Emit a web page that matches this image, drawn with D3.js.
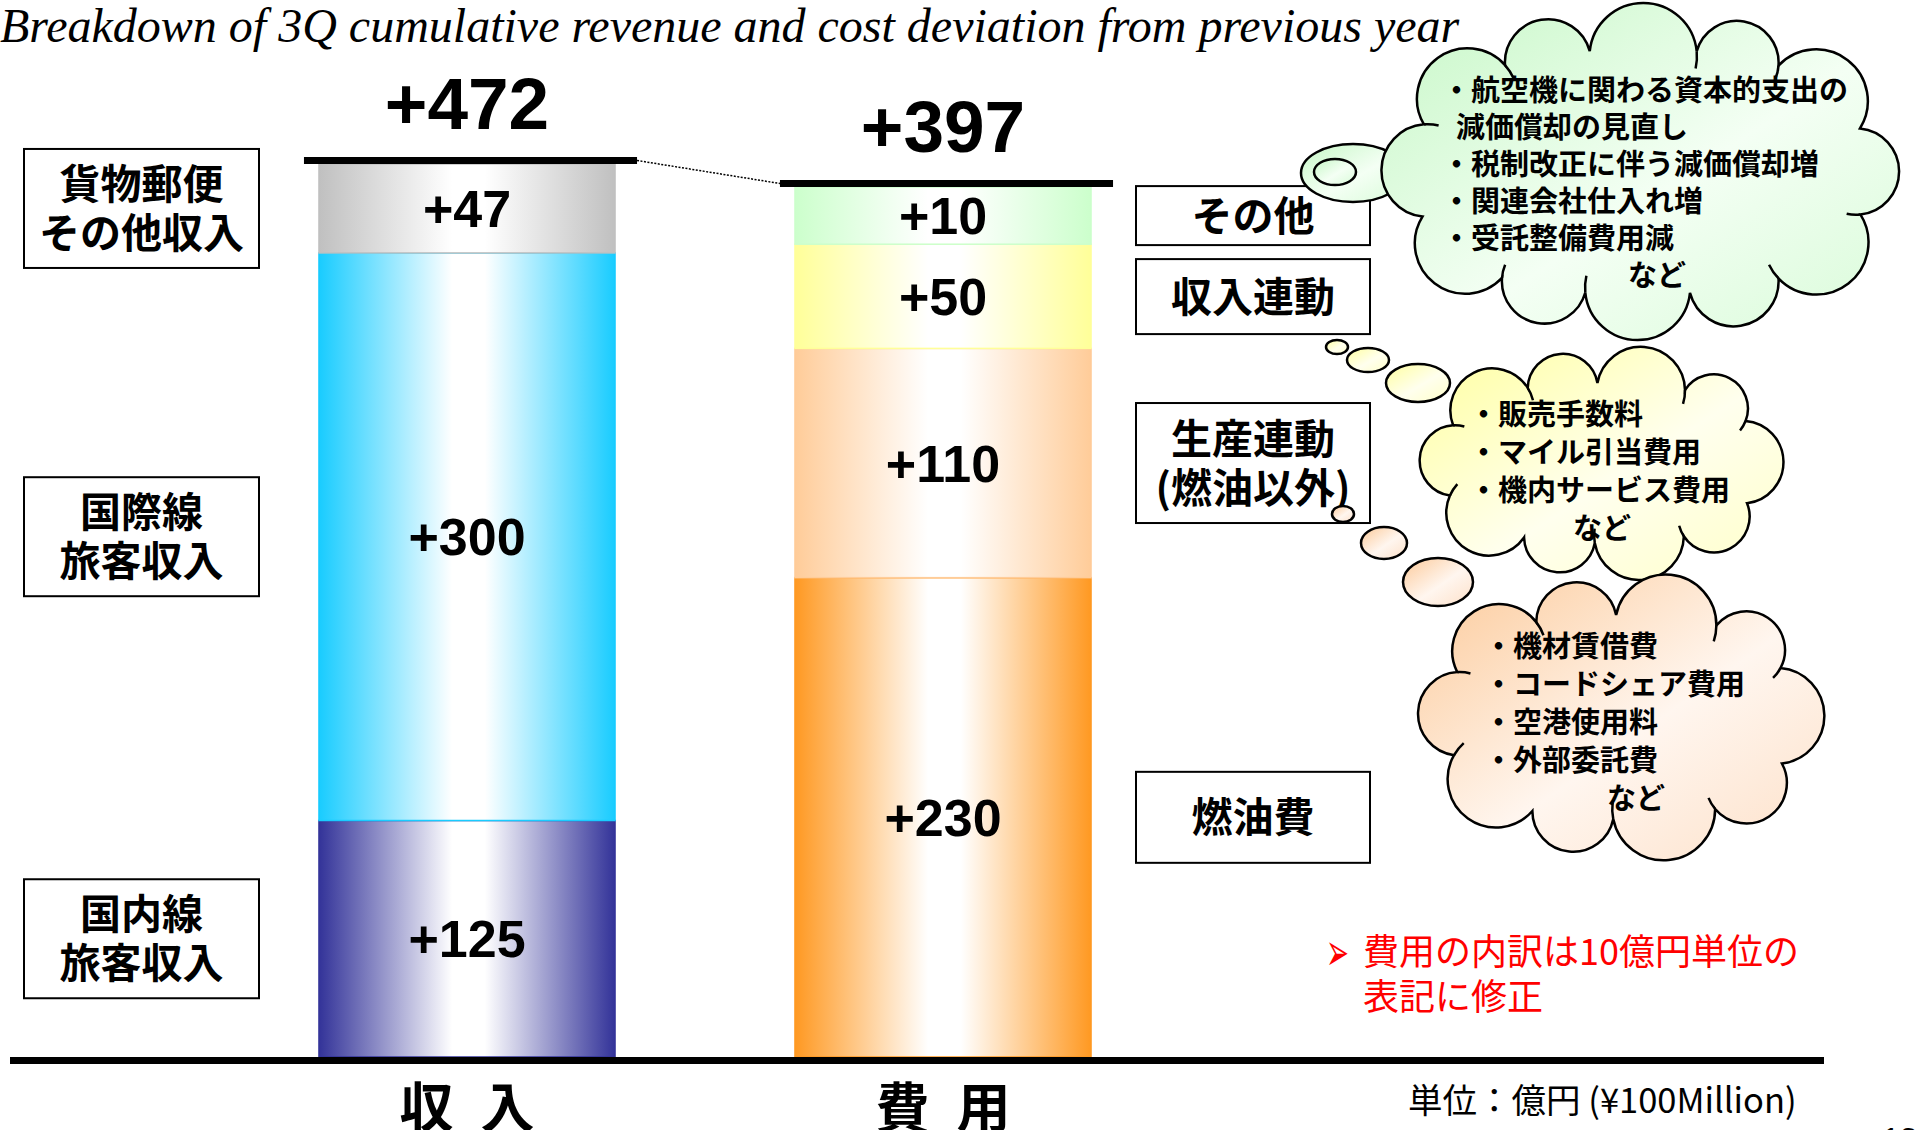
<!DOCTYPE html>
<html>
<head>
<meta charset="utf-8">
<script src="https://cdn.jsdelivr.net/npm/d3@7"></script>
<style>
  body { margin: 0; background: #fff; }
  svg { display: block; }
</style>
</head>
<body>
<svg id="chart" width="1916" height="1130"></svg>
<script>
// ---- data ----
var title = "Breakdown of 3Q cumulative revenue and cost deviation from previous year";
var categories = ["収入", "費用"];
var totals = [472, 397];

// stacked from the bottom up
var revenueLabels = [["国内線", "旅客収入"], ["国際線", "旅客収入"], ["貨物郵便", "その他収入"]];
var revenueValues = [125, 300, 47];
var costLabels = [["燃油費"], ["生産連動", "(燃油以外)"], ["収入連動"], ["その他"]];
var costValues = [230, 110, 50, 10];

var otherCostNotes = ["・航空機に関わる資本的支出の", "減価償却の見直し", "・税制改正に伴う減価償却増", "・関連会社仕入れ増", "・受託整備費用減", "など"];
var revenueLinkedNotes = ["・販売手数料", "・マイル引当費用", "・機内サービス費用", "など"];
var productionLinkedNotes = ["・機材賃借費", "・コードシェア費用", "・空港使用料", "・外部委託費", "など"];

var noteLines = ["費用の内訳は10億円単位の", "表記に修正"];
var unitLabel = "単位：億円 (¥100Million)";
var pageNumber = "13";

// ---- styles / layout ----
var revenueColors = ["#333399", "#19ccff", "#c0c0c0"];
var costColors = ["#ff9922", "#ffcc99", "#ffff99", "#ccffcc"];
var jpFont = "'Noto Sans CJK JP', sans-serif";
var numFont = "'Liberation Sans', Arial, sans-serif";
var baseY = 1057;
var segFs = 52;
var minSegH = segFs * 1.1;   // a segment never gets thinner than its label

var svg = d3.select("#chart");
var defs = svg.append("defs");

// horizontal "cylinder" gradients for the bars
function barGradient(id, c) {
  var g = defs.append("linearGradient").attr("id", id)
      .attr("x1", 0).attr("x2", 1).attr("y1", 0).attr("y2", 0);
  [[0, c], [0.45, "#ffffff"], [0.56, "#ffffff"], [1, c]].forEach(function(s) {
    g.append("stop").attr("offset", s[0]).attr("stop-color", s[1]);
  });
}
function diagGradient(id, c1, c2, c3) {
  var g = defs.append("linearGradient").attr("id", id)
      .attr("x1", 0).attr("y1", 0).attr("x2", 1).attr("y2", 1);
  [[0, c1], [0.55, c2], [1, c3]].forEach(function(s) {
    g.append("stop").attr("offset", s[0]).attr("stop-color", s[1]);
  });
}
revenueColors.forEach(function(c, i) { barGradient("rev" + i, c); });
costColors.forEach(function(c, i) { barGradient("cost" + i, c); });
diagGradient("cloudGreen", "#c6f7c6", "#f4fff4", "#d8fbd8");
diagGradient("cloudYellow", "#ffff9e", "#ffffee", "#ffffc8");
diagGradient("cloudPeach", "#fcc998", "#fff6ef", "#fde0c8");

// title
svg.append("text")
    .attr("x", 0).attr("y", 42)
    .style("font-family", "'Liberation Serif', 'Times New Roman', serif")
    .style("font-style", "italic")
    .style("font-size", "48px")
    .text(title);

// ---- scales ----
var x = d3.scaleBand().domain(categories)
    .range([229, 1181]).paddingInner(0.378).paddingOuter(0.189);
var yRev = d3.scaleLinear().domain([0, d3.sum(revenueValues)]).range([baseY, 164]);
var yCost = d3.scaleLinear().domain([0, d3.sum(costValues)]).range([baseY, 187]);

function segments(values, labels, cat, y, prefix, colors) {
  // heights from the scale, small ones widened to minSegH, the rest shrunk to keep the total
  var full = y(0) - y(d3.sum(values));
  var raw = values.map(function(v) { return y(0) - y(v); });
  var fixed = d3.sum(raw, function(h) { return h < minSegH ? minSegH : 0; });
  var rest = d3.sum(raw, function(h) { return h < minSegH ? 0 : h; });
  var k = (full - fixed) / rest;
  var bottom = y(0);
  return values.map(function(v, i) {
    var h = raw[i] < minSegH ? minSegH : raw[i] * k;
    var s = { cat: cat, v: v, py0: bottom, py1: bottom - h, fill: "url(#" + prefix + i + ")",
              edge: colors[i], label: labels[i] };
    bottom -= h;
    return s;
  });
}
var revSegs = segments(revenueValues, revenueLabels, categories[0], yRev, "rev", revenueColors);
var costSegs = segments(costValues, costLabels, categories[1], yCost, "cost", costColors);
var allSegs = revSegs.concat(costSegs);

// bars
svg.append("g").selectAll("rect")
  .data(allSegs)
  .enter().append("rect")
    .attr("x", function(d) { return x(d.cat); })
    .attr("y", function(d) { return d.py1; })
    .attr("width", x.bandwidth())
    .attr("height", function(d) { return d.py0 - d.py1; })
    .style("fill", function(d) { return d.fill; })
    .style("stroke", function(d) { return d.edge; })
    .style("stroke-width", 1.5);

// segment values
svg.append("g").selectAll("text")
  .data(allSegs)
  .enter().append("text")
    .attr("x", function(d) { return x(d.cat) + x.bandwidth() / 2; })
    .attr("y", function(d) { return (d.py0 + d.py1) / 2 + segFs * 0.36; })
    .attr("text-anchor", "middle")
    .style("font-family", numFont).style("font-weight", "bold").style("font-size", segFs + "px")
    .text(function(d) { return "+" + d.v; });

// top lines and totals
var tops = [
  { cat: categories[0], y: yRev(d3.sum(revenueValues)), total: totals[0] },
  { cat: categories[1], y: yCost(d3.sum(costValues)), total: totals[1] }
];
svg.append("g").selectAll("rect")
  .data(tops)
  .enter().append("rect")
    .attr("x", function(d) { return x(d.cat) - 15; })
    .attr("y", function(d) { return d.y - 7; })
    .attr("width", x.bandwidth() + 37)
    .attr("height", 7)
    .style("fill", "#000");

svg.append("line")
    .attr("x1", x(tops[0].cat) + x.bandwidth() + 22).attr("y1", tops[0].y - 3.5)
    .attr("x2", x(tops[1].cat) - 15).attr("y2", tops[1].y - 3.5)
    .style("stroke", "#000").style("stroke-width", 1.5).style("stroke-dasharray", "2,1.5");

svg.append("g").selectAll("text")
  .data(tops)
  .enter().append("text")
    .attr("x", function(d) { return x(d.cat) + x.bandwidth() / 2; })
    .attr("y", function(d) { return d.y - 7 - 28; })
    .attr("text-anchor", "middle")
    .style("font-family", numFont).style("font-weight", "bold").style("font-size", "73px")
    .text(function(d) { return "+" + d.total; });

// baseline
svg.append("rect").attr("x", 10).attr("y", baseY).attr("width", 1814).attr("height", 7).style("fill", "#000");

// category labels
var catFs = 54;
svg.append("g").selectAll("text")
  .data(categories)
  .enter().append("text")
    .attr("x", function(d) { return x(d) + x.bandwidth() / 2 - catFs * 1.25; })
    .attr("y", 1128)
    .style("font-family", jpFont).style("font-weight", "bold").style("font-size", catFs + "px")
    .style("letter-spacing", (catFs * 0.5) + "px")
    .text(function(d) { return d; });

// ---- label boxes ----
function drawBox(g, bx, cy, w, h, lines) {
  g.append("rect").attr("x", bx).attr("y", cy - h / 2).attr("width", w).attr("height", h)
      .style("fill", "#fff").style("stroke", "#000").style("stroke-width", 2);
  var lh = 49;
  lines.forEach(function(t, i) {
    g.append("text")
        .attr("x", bx + w / 2)
        .attr("y", cy + (i - (lines.length - 1) / 2) * lh + 15)
        .attr("text-anchor", "middle")
        .style("font-family", jpFont).style("font-weight", "bold").style("font-size", "41px")
        .text(t);
  });
}
var boxG = svg.append("g");
revSegs.forEach(function(d) {
  drawBox(boxG, 24, (d.py0 + d.py1) / 2, 235, 119, d.label);
});

// right boxes: centred on their segment, pushed down to avoid overlaps
var rightBoxH = [91, 120, 75, 59];
var prevBottom = -Infinity;
d3.range(costSegs.length - 1, -1, -1).forEach(function(i) {
  var d = costSegs[i], h = rightBoxH[i];
  var top = Math.max((d.py0 + d.py1) / 2 - h / 2, prevBottom + 14);
  prevBottom = top + h;
  drawBox(boxG, 1136, top + h / 2, 234, h, d.label);
});

// ---- thought clouds ----
function basePoints(c) {
  // rounded-rectangle-ish outline, points spaced evenly along it
  var fine = d3.range(721).map(function(k) {
    var a = Math.PI + k / 720 * 2 * Math.PI;
    var cs = Math.cos(a), sn = Math.sin(a);
    return [c.cx + c.rx * Math.sign(cs) * Math.pow(Math.abs(cs), 0.8),
            c.cy + c.ry * Math.sign(sn) * Math.pow(Math.abs(sn), 0.8)];
  });
  var len = [0];
  for (var k = 1; k < fine.length; k++) {
    len.push(len[k - 1] + Math.hypot(fine[k][0] - fine[k - 1][0], fine[k][1] - fine[k - 1][1]));
  }
  var total = len[len.length - 1];
  var shift = [0, 0.07, -0.05, 0.06, -0.07, 0.03, -0.06, 0.05, -0.03, 0.07, -0.05, 0.02];
  return d3.range(c.n).map(function(i) {
    var k = d3.bisectLeft(len, ((i + 0.5 + shift[i % shift.length]) / c.n) * total);
    return fine[Math.min(k, fine.length - 1)];
  });
}
function drawCloud(c) {
  var pts = basePoints(c);
  var lobes = pts.map(function(p, i) {
    var q = pts[(i + 1) % pts.length];
    var mx = (p[0] + q[0]) / 2, my = (p[1] + q[1]) / 2;
    var L = Math.hypot(q[0] - p[0], q[1] - p[1]);
    // outward normal of the chord
    var nx = q[1] - p[1], ny = -(q[0] - p[0]);
    var nl = Math.hypot(nx, ny);
    var ox = mx - nx / nl * 0.05 * L, oy = my - ny / nl * 0.05 * L;
    return { ox: ox, oy: oy, r: Math.hypot(p[0] - ox, p[1] - oy),
             a0: Math.atan2(p[1] - oy, p[0] - ox), a1: Math.atan2(q[1] - oy, q[0] - ox) };
  });
  var path = d3.path();
  path.moveTo(pts[0][0], pts[0][1]);
  lobes.forEach(function(l) { path.arc(l.ox, l.oy, l.r, l.a0, l.a1, false); });
  path.closePath();
  var g = svg.append("g");
  g.append("path").attr("d", path.toString())
      .style("fill", c.fill).style("stroke", "#000").style("stroke-width", 2.5);
  lobes.forEach(function(l, i) {
    if (i % 3 === 1) return;
    var ip = d3.path();
    ip.arc(l.ox, l.oy, l.r, l.a1, l.a1 + 0.32, false);
    g.append("path").attr("d", ip.toString())
        .style("fill", "none").style("stroke", "#000").style("stroke-width", 2.5);
  });
  c.lines.forEach(function(t, i) {
    var tx = t === "など" ? c.nadoX : (t.charAt(0) === "・" ? c.textX : c.textX + 14);
    g.append("text")
        .attr("x", tx).attr("y", c.firstY + i * c.lineH)
        .style("font-family", jpFont).style("font-weight", "bold").style("font-size", "29px")
        .text(t);
  });
}
function drawBubbles(list, fill) {
  svg.append("g").selectAll("ellipse")
    .data(list)
    .enter().append("ellipse")
      .attr("cx", function(d) { return d[0]; }).attr("cy", function(d) { return d[1]; })
      .attr("rx", function(d) { return d[2]; }).attr("ry", function(d) { return d[3]; })
      .style("fill", fill).style("stroke", "#000").style("stroke-width", 2.5);
}

drawBubbles([[1353, 173, 52, 29], [1335, 172, 21, 13]], "url(#cloudGreen)");
drawBubbles([[1337, 347, 11, 7], [1368, 360, 21, 12], [1418, 383, 32, 19]], "url(#cloudYellow)");
drawBubbles([[1343, 514, 11, 8], [1384, 543, 23, 16], [1438, 582, 35, 24]], "url(#cloudPeach)");

drawCloud({ cx: 1641, cy: 172, rx: 226, ry: 122, n: 12, fill: "url(#cloudGreen)",
            lines: otherCostNotes, textX: 1442, firstY: 101, lineH: 37, nadoX: 1628 });
drawCloud({ cx: 1601, cy: 463, rx: 158, ry: 80, n: 10, fill: "url(#cloudYellow)",
            lines: revenueLinkedNotes, textX: 1469, firstY: 425, lineH: 38, nadoX: 1573 });
drawCloud({ cx: 1620, cy: 717, rx: 172, ry: 102, n: 10, fill: "url(#cloudPeach)",
            lines: productionLinkedNotes, textX: 1484, firstY: 657, lineH: 38, nadoX: 1607 });

// ---- note, unit, page ----
svg.append("text")
    .attr("x", 1326).attr("y", 970)
    .attr("textLength", 23).attr("lengthAdjust", "spacingAndGlyphs")
    .style("font-family", "'DejaVu Sans', sans-serif").style("font-size", "52px").style("fill", "#ff0000")
    .text("➢");
svg.append("g").selectAll("text")
  .data(noteLines)
  .enter().append("text")
    .attr("x", 1363).attr("y", function(d, i) { return 965 + i * 45; })
    .style("font-family", jpFont).style("font-size", "36px").style("fill", "#ff0000")
    .text(function(d) { return d; });

svg.append("text")
    .attr("x", 1408).attr("y", 1113)
    .style("font-family", jpFont).style("font-size", "34.5px")
    .text(unitLabel);

svg.append("text")
    .attr("x", 1882).attr("y", 1150)
    .style("font-family", numFont).style("font-size", "32px")
    .text(pageNumber);
</script>
</body>
</html>
